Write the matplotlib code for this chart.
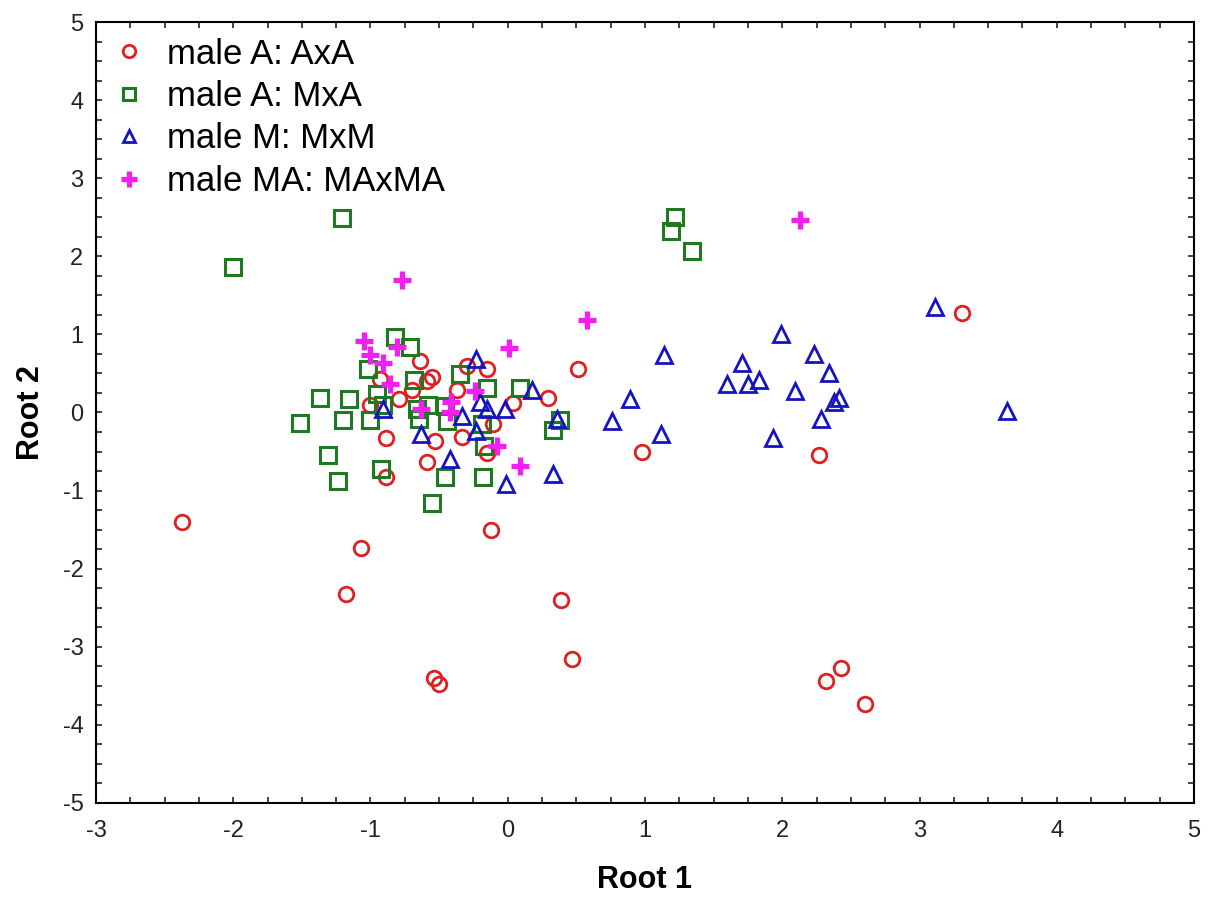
import numpy as np
import matplotlib
matplotlib.use('Agg')
import matplotlib.pyplot as plt
from matplotlib.ticker import MultipleLocator

plt.rcParams['font.family'] = ['Liberation Sans', 'DejaVu Sans']
plt.rcParams['axes.unicode_minus'] = False

# male A: AxA (red circles)
axa_x = [-2.37, -1.07, -1.18, -0.12, 0.39, 0.47, -0.54, -0.50, 2.32, 2.43, 2.60, 3.31, 2.27, 0.98,
         0.51, 0.29, 0.04, -0.64, -0.55, -0.59, -0.93, -0.79, -1.00, -0.89, -0.89, -0.70,
         -0.30, -0.15, -0.37, -0.11, -0.33, -0.53, -0.59, -0.15]
axa_y = [-1.40, -1.74, -2.32, -1.51, -2.40, -3.15, -3.40, -3.47, -3.44, -3.27, -3.73, 1.28, -0.55, -0.51,
         0.56, 0.19, 0.12, 0.66, 0.46, 0.40, 0.43, 0.17, 0.10, -0.33, -0.82, 0.29,
         0.59, 0.56, 0.29, -0.15, -0.31, -0.37, -0.63, -0.52]

# male A: MxA (green squares)
mxa_x = [-2.00, -1.21, 1.22, 1.19, 1.34, -1.51, -1.37, -1.31, -1.24, -1.20, -1.16, -0.92, -0.55,
         -0.46, -0.18, 0.33, 0.38, 0.09, -0.82, -0.71, -1.02, -0.95, -0.68, -0.91, -0.66, -0.58,
         -0.65, -1.00, -0.35, -0.15, -0.46, -0.44, -0.19, -0.17]
mxa_y = [1.86, 2.49, 2.50, 2.32, 2.07, -0.14, 0.18, -0.54, -0.88, -0.09, 0.17, -0.72, -1.16,
         -0.82, -0.82, -0.22, -0.09, 0.31, 0.97, 0.84, 0.56, 0.24, 0.41, 0.10, 0.04, 0.10,
         -0.08, -0.09, 0.49, 0.31, 0.08, -0.11, -0.15, -0.43]

# male M: MxM (blue triangles)
mxm_x = [-0.91, -0.63, -0.23, -0.20, -0.15, -0.33, -0.23, -0.02, 0.18, 0.36, -0.42, -0.01, 0.33,
         1.14, 0.89, 0.76, 1.12, 1.99, 2.23, 1.71, 1.60, 1.75, 1.83, 2.09, 2.34, 2.41, 2.38,
         2.28, 1.93, 3.11, 3.64]
mxm_y = [0.04, -0.28, 0.68, 0.14, 0.04, -0.05, -0.24, 0.04, 0.29, -0.08, -0.59, -0.91, -0.79,
         0.74, 0.17, -0.11, -0.27, 1.00, 0.75, 0.63, 0.37, 0.36, 0.42, 0.27, 0.50, 0.18, 0.14,
         -0.08, -0.33, 1.35, 0.02]

# male MA: MAxMA (magenta plus)
maxma_x = [2.13, -0.77, 0.58, 0.01, 0.09, -0.08, -1.05, -0.81, -1.00, -0.91, -0.86, -0.63,
           -0.24, -0.41, -0.42]
maxma_y = [2.46, 1.70, 1.19, 0.82, -0.68, -0.43, 0.91, 0.84, 0.74, 0.63, 0.37, 0.05,
           0.27, 0.14, 0.01]

fig = plt.figure(figsize=(12.21, 8.98), dpi=100)
ax = fig.add_axes([0.0786, 0.1058, 0.8993, 0.8697])

ax.plot(axa_x, axa_y, 'o', mfc='none', mec='#e02020', mew=2, ms=10.5, ls='none', label='male A: AxA')
ax.plot(mxa_x, mxa_y, 's', mfc='none', mec='#1e7a1e', mew=2.2, ms=11, ls='none', label='male A: MxA')
ax.plot(mxm_x, mxm_y, '^', mfc='none', mec='#1414c0', mew=2, ms=11, ls='none', label='male M: MxM')
ax.plot(maxma_x, maxma_y, '+', color='#f020f0', mec='#f020f0', ms=13, mew=3.8, ls='none', label='male MA: MAxMA')

ax.set_xlim(-3, 5)
ax.set_ylim(-5, 5)
ax.xaxis.set_major_locator(MultipleLocator(1))
ax.yaxis.set_major_locator(MultipleLocator(1))
ax.xaxis.set_minor_locator(MultipleLocator(0.25))
ax.yaxis.set_minor_locator(MultipleLocator(0.25))
ax.tick_params(which='both', direction='in', top=True, right=True, labelsize=17,
               colors='#222222', length=4, width=1.2)
ax.tick_params(axis='x', pad=12)
ax.tick_params(axis='y', pad=9)
for s in ax.spines.values():
    s.set_linewidth(1.5)

ax.set_xlabel('Root 1', fontsize=22, fontweight='bold', labelpad=17)
ax.set_ylabel('Root 2', fontsize=22, fontweight='bold', labelpad=12)

ax.legend(loc='upper left', frameon=False, fontsize=25, handletextpad=0.6, labelspacing=0.27,
          borderaxespad=0.05, handlelength=1.0, markerscale=0.85)

fig.savefig('out.png', dpi=100)
